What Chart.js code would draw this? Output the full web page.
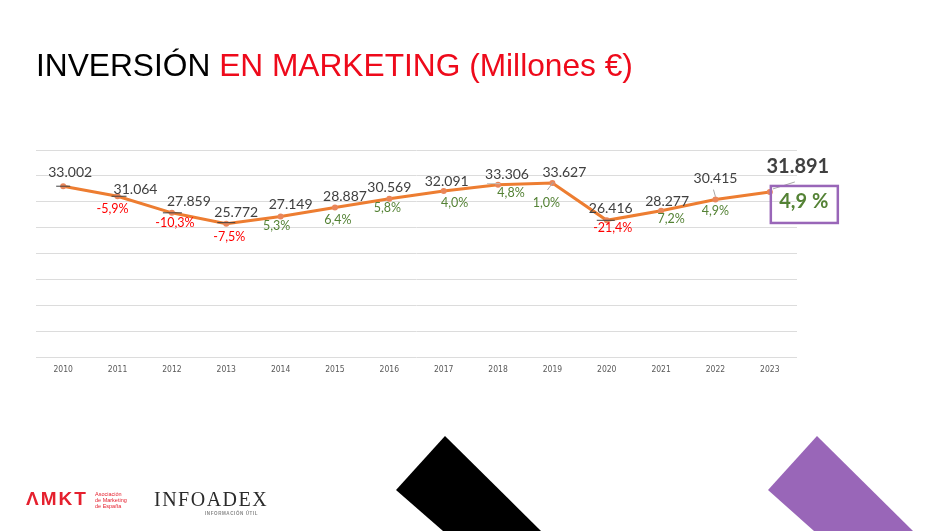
<!DOCTYPE html>
<html>
<head>
<meta charset="utf-8">
<script src="https://cdn.jsdelivr.net/npm/chart.js@4.4.1/dist/chart.umd.min.js"></script>
<style>
  html, body { margin: 0; padding: 0; background: #fff; }
  #page { position: relative; width: 950px; height: 531px; overflow: hidden; background: #fff; }
  #chartBox { position: absolute; left: 0; top: 0; width: 950px; height: 531px; }
  #title { position: absolute; left: 36px; top: 49px; font-family: "Liberation Sans", Arial, sans-serif;
           font-size: 31.7px; line-height: 32px; color: #000; white-space: nowrap; }
  #title span { color: #ee0a1b; }
  #shapes { position: absolute; left: 0; top: 0; }
  .amkt { position: absolute; left: 26px; top: 489px; font-family: "Liberation Sans", Arial, sans-serif;
          font-size: 19px; letter-spacing: 2px; color: #e5202e; line-height: 20px; font-weight: bold; }
  .amkt-sub { position: absolute; left: 95px; top: 491px; font-family: "Liberation Sans", Arial, sans-serif;
              font-size: 5.5px; line-height: 6px; color: #e5202e; }
  .infoadex { position: absolute; left: 154px; top: 489px; font-family: "Liberation Serif", serif;
              font-size: 20px; line-height: 20px; color: #2b2b2b; letter-spacing: 1.5px; }
  .infoadex-sub { position: absolute; left: 205px; top: 511px; font-family: "Liberation Sans", Arial, sans-serif;
                  font-size: 4.5px; letter-spacing: 0.6px; color: #888; font-weight: bold; }
</style>
</head>
<body>
<div id="page">
  <svg id="shapes" width="950" height="531">
    <polygon points="445,436 396,490 443,531 541,531" fill="#000"/>
    <polygon points="817,436 768,490 814,531 913,531" fill="#9966b8"/>
  </svg>
  <div id="chartBox"><canvas id="chart"></canvas></div>
  <div id="title">INVERSIÓN <span>EN MARKETING (Millones €)</span></div>
  <div class="amkt">ΛMKT</div>
  <div class="amkt-sub">Asociación<br>de Marketing<br>de España</div>
  <div class="infoadex">INFOADEX</div>
  <div class="infoadex-sub">INFORMACIÓN ÚTIL</div>
</div>
<script>
// data (millones de euros)
const years = ['2010', '2011', '2012', '2013', '2014', '2015', '2016', '2017', '2018', '2019', '2020', '2021', '2022', '2023'];
const inversion = [33.002, 31.064, 27.859, 25.772, 27.149, 28.887, 30.569, 32.091, 33.306, 33.627, 26.416, 28.277, 30.415, 31.891];
// variacion anual (%)
const variacion = [null, -5.9, -10.3, -7.5, 5.3, 6.4, 5.8, 4.0, 4.8, 1.0, -21.4, 7.2, 4.9, 4.9];

// label placement relative to each point (dx, dy)
const valueOffsets = [[7,-14],[18,-7],[17,-11],[10,-11],[10,-12],[10,-11],[0,-11],[3,-9],[9,-10],[12,-10],[4,-12],[6,-9],[0,-21],[28,-25]];
const pctOffsets = [null,[-5,13],[3,10],[3,13],[-4,9],[3,12],[-2,9],[11,12],[13,8],[-6,20],[6,8],[10,8],[0,11],[34,10]];
// leader lines [x1,y1,x2,y2,color]
const leaders = {
    0: [-7,0,7,0,'#404040'],
    1: [-6,0,9,0,'#404040'],
    2: [-9,0,10,0,'#404040'],
    3: [-9,-1,9,-1,'#404040'],
    8: [-11,-1,2,-1,'#bfbfbf'],
    9: [-5,7,1,-1,'#a6a6a6'],
    10: [-10,0,8,0,'#404040'],
    12: [-2,-10,0,-3,'#a6a6a6'],
    13: [3,-3,25,-10,'#a6a6a6']
};

function fmtValue(v) { return v.toFixed(3); }
function fmtPct(v) { return v.toFixed(1).replace('.', ',') + '%'; }

const labelsPlugin = {
    id: 'labels',
    afterDatasetsDraw(chart) {
        const ctx = chart.ctx;
        const pts = chart.getDatasetMeta(0).data;
        ctx.save();
        ctx.textAlign = 'center';
        ctx.textBaseline = 'middle';
        pts.forEach(function (p, i) {
            const l = leaders[i];
            if (l) {
                ctx.strokeStyle = l[4];
                ctx.lineWidth = 1;
                ctx.beginPath();
                ctx.moveTo(p.x + l[0], p.y + l[1]);
                ctx.lineTo(p.x + l[2], p.y + l[3]);
                ctx.stroke();
            }
            const last = i === pts.length - 1;
            const vo = valueOffsets[i];
            ctx.fillStyle = '#404040';
            ctx.font = last ? 'bold 20px Lato, sans-serif' : '14px Lato, sans-serif';
            ctx.fillText(fmtValue(inversion[i]), p.x + vo[0], p.y + vo[1]);
            if (variacion[i] !== null) {
                const po = pctOffsets[i];
                const neg = variacion[i] < 0;
                ctx.fillStyle = neg ? '#ff0000' : '#548235';
                if (last) {
                    const cx = p.x + po[0], cy = p.y + po[1];
                    ctx.font = 'bold 20px Lato, sans-serif';
                    ctx.fillText(variacion[i].toFixed(1).replace('.', ',') + ' %', cx, cy);
                    ctx.strokeStyle = '#9966b8';
                    ctx.lineWidth = 2.5;
                    ctx.strokeRect(cx - 33, cy - 16, 67, 37);
                } else {
                    ctx.font = '12.5px Lato, sans-serif';
                    ctx.fillText(fmtPct(variacion[i]), p.x + po[0], p.y + po[1]);
                }
            }
        });
        ctx.restore();
    }
};

const ctx = document.getElementById('chart').getContext('2d');
new Chart(ctx, {
    type: 'line',
    data: {
        labels: years,
        datasets: [{
            label: 'Inversión',
            data: inversion,
            borderColor: '#ed7d31',
            backgroundColor: '#ed7d31',
            borderWidth: 3,
            pointRadius: 3,
            pointBorderWidth: 0,
            pointBackgroundColor: '#e9865a',
            tension: 0,
            fill: false
        }]
    },
    options: {
        responsive: true,
        maintainAspectRatio: false,
        animation: false,
        layout: { padding: { left: 36, right: 153, top: 150, bottom: 144 } },
        plugins: { legend: { display: false }, tooltip: { enabled: false } },
        scales: {
            x: {
                offset: true,
                grid: { display: false, drawTicks: false },
                border: { display: false },
                ticks: {
                    color: '#595959',
                    font: { family: '"DejaVu Sans Condensed", "Liberation Sans Narrow", Lato, sans-serif', size: 8.5 },
                    padding: 8,
                    maxRotation: 0
                },
                afterFit(scale) { scale.height = 30; }
            },
            y: {
                min: 0,
                max: 40,
                ticks: { stepSize: 5, display: false },
                grid: { color: '#dcdcdc', lineWidth: 1, drawTicks: false },
                border: { display: false },
                afterFit(scale) { scale.width = 0; }
            }
        }
    },
    plugins: [labelsPlugin]
});
</script>
</body>
</html>
